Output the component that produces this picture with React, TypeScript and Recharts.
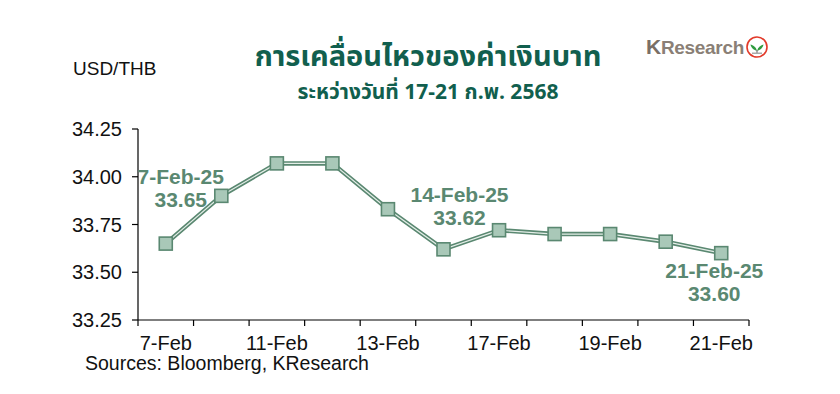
import React from "react";
import { LineChart, Line, XAxis, YAxis, LabelList } from "recharts";

const categories = [
  "7-Feb", "10-Feb", "11-Feb", "12-Feb", "13-Feb", "14-Feb",
  "17-Feb", "18-Feb", "19-Feb", "20-Feb", "21-Feb",
];
const usdThb = [33.65, 33.9, 34.07, 34.07, 33.83, 33.62, 33.72, 33.7, 33.7, 33.66, 33.6];
const yTicks = [33.25, 33.5, 33.75, 34.0, 34.25];
const labelledCategories = ["7-Feb", "11-Feb", "13-Feb", "17-Feb", "19-Feb", "21-Feb"];
const annotatedIndex = [0, 5, 10];
const annotationDates = ["7-Feb-25", "14-Feb-25", "21-Feb-25"];

const data = categories.map((c, i) => ({ idx: i, cat: c, value: usdThb[i] }));

// where each call-out sits relative to its point
const calloutOffset: Record<number, { dx: number; dy: number }> = {
  0: { dx: 15, dy: -60 },
  5: { dx: 16, dy: -47 },
  10: { dx: -7, dy: 25 },
};

const DARK = "#5a8871";
const LIGHT = "#e4eee8";
const TITLE = "#115f4e";
const FONT = "'Liberation Sans', Arial, sans-serif";
const THAI = "'Noto Sans Thai', 'Leelawadee UI', Tahoma, 'Noto Sans', sans-serif";

// half-step ticks are the separators, whole-step ticks carry the labels
const xTicks: number[] = [];
for (let i = -0.5; i <= categories.length - 0.5; i += 0.5) xTicks.push(i);

const XTick = ({ x, y, payload }: any) => {
  const v = payload.value;
  if (Math.abs(v % 1) === 0.5) {
    return <line x1={x} x2={x} y1={y} y2={y + 6} stroke="#000" strokeWidth={1.2} />;
  }
  const cat = categories[v];
  if (!labelledCategories.includes(cat)) return null;
  return (
    <text x={x} y={y + 30} textAnchor="middle" fontSize={20} fontFamily={FONT} fill="#111">
      {cat}
    </text>
  );
};

const SquareDot = ({ cx, cy, index }: any) => (
  <rect
    key={index}
    x={cx - 6.5}
    y={cy - 6.5}
    width={13}
    height={13}
    fill="#a9c8b8"
    stroke={DARK}
    strokeWidth={1.6}
  />
);

const Callout = ({ x, y, index, value }: any) => {
  const k = annotatedIndex.indexOf(index);
  if (k < 0) return null;
  const { dx, dy } = calloutOffset[index];
  return (
    <g fontFamily={FONT} fontWeight={700} fontSize={21} fill={DARK} textAnchor="middle">
      <text x={x + dx} y={y + dy}>{annotationDates[k]}</text>
      <text x={x + dx} y={y + dy + 23}>{Number(value).toFixed(2)}</text>
    </g>
  );
};

const Logo = () => (
  <div style={{ position: "absolute", left: 646, top: 35, display: "flex", alignItems: "center" }}>
    <span style={{ fontFamily: FONT, fontWeight: 700, fontSize: 19, color: "#8a7f76", letterSpacing: -0.3 }}>
      <span style={{ color: "#7a6f66", fontSize: 21 }}>K</span>Research
    </span>
    <svg width={24} height={24} style={{ marginLeft: 1 }}>
      <circle cx={12} cy={12} r={10} fill="#fff" stroke="#e23a2a" strokeWidth={1.6} />
      <path d="M12 16 C11 12 8 10 5.5 9.5 C6 13 9 15 12 16 Z" fill="#2f9a3e" />
      <path d="M12 16 C13 12 16 10 18.5 9.5 C18 13 15 15 12 16 Z" fill="#2f9a3e" />
      <rect x={11.3} y={15} width={1.4} height={3} fill="#888" />
      <rect x={7} y={17.5} width={10} height={1.5} fill="#aaa" />
    </svg>
  </div>
);

export default function App() {
  return (
    <div style={{ position: "absolute", left: 0, top: 0, width: 840, height: 394, background: "#fff" }}>
      <div
        style={{
          position: "absolute", left: 0, width: 856, top: 37, textAlign: "center",
          fontFamily: THAI, fontWeight: 700, fontSize: 29, color: TITLE, lineHeight: "40px",
        }}
      >
        การเคลื่อนไหวของค่าเงินบาท
      </div>
      <div
        style={{
          position: "absolute", left: 0, width: 856, top: 79, textAlign: "center",
          fontFamily: THAI, fontWeight: 700, fontSize: 21, color: TITLE, lineHeight: "28px",
        }}
      >
        ระหว่างวันที่ 17-21 ก.พ. 2568
      </div>
      <div style={{ position: "absolute", left: 73, top: 58, fontFamily: FONT, fontSize: 19, color: "#111" }}>
        USD/THB
      </div>
      <Logo />
      <div style={{ position: "absolute", left: 85, top: 352, fontFamily: FONT, fontSize: 19.5, color: "#111" }}>
        Sources: Bloomberg, KResearch
      </div>
      <div style={{ position: "absolute", left: 0, top: 0 }}>
        <LineChart width={840} height={394} data={data} margin={{ top: 129, right: 91, bottom: 44, left: 0 }}>
          <XAxis
            dataKey="idx"
            type="number"
            domain={[-0.5, categories.length - 0.5]}
            ticks={xTicks}
            interval={0}
            tick={<XTick />}
            tickLine={false}
            tickSize={0}
            tickMargin={0}
            height={30}
            axisLine={{ stroke: "#000", strokeWidth: 1.2 }}
          />
          <YAxis
            domain={[33.25, 34.25]}
            ticks={yTicks}
            interval={0}
            width={138}
            tickFormatter={(v: number) => v.toFixed(2)}
            tickSize={6}
            tickMargin={10}
            tick={{ fontSize: 20, fontFamily: FONT, fill: "#111" }}
            tickLine={{ stroke: "#000", strokeWidth: 1.2 }}
            axisLine={{ stroke: "#000", strokeWidth: 1.2 }}
          />
          <Line dataKey="value" stroke={DARK} strokeWidth={4.5} dot={false} isAnimationActive={false} />
          <Line
            dataKey="value"
            stroke={LIGHT}
            strokeWidth={1.2}
            dot={<SquareDot />}
            activeDot={false}
            isAnimationActive={false}
          >
            <LabelList dataKey="value" content={<Callout />} />
          </Line>
        </LineChart>
      </div>
    </div>
  );
}
